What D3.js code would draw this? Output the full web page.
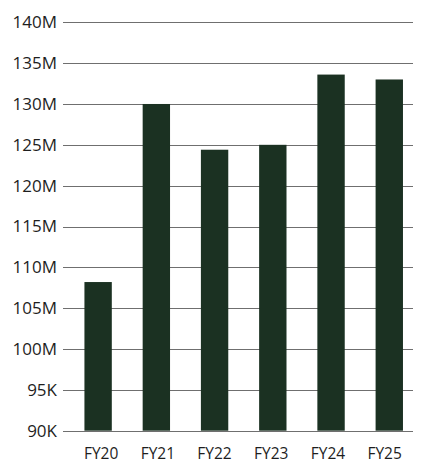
<!DOCTYPE html>
<html><head><meta charset="utf-8">
<script src="https://cdn.jsdelivr.net/npm/d3@7"></script>
<style>html,body{margin:0;padding:0;background:#fff;}</style>
</head><body>
<svg id="chart" width="427" height="470"></svg>
<script>
const categories = ["FY20","FY21","FY22","FY23","FY24","FY25"];
const values = [108.2, 130.0, 124.4, 125.0, 133.6, 133.0];
const tickValues = [90,95,100,105,110,115,120,125,130,135,140];
const tickLabels = ["90K","95K","100M","105M","110M","115M","120M","125M","130M","135M","140M"];

const svg = d3.select("#chart");
const font = "'Open Sans', 'Noto Sans', sans-serif";
const y = d3.scaleLinear().domain([90,140]).range([430.7,22.3]);
const x = d3.scaleBand().domain(categories).range([69,418.4]).paddingInner(0.53).paddingOuter(0.265);
const xl = d3.scaleBand().domain(categories).range([72.8,413]);
const gx0 = 63, gx1 = 413;

// gridlines
svg.append("g").selectAll("line").data(tickValues).join("line")
  .attr("x1", gx0).attr("x2", gx1)
  .attr("y1", d => Math.round(y(d)) + 0.5).attr("y2", d => Math.round(y(d)) + 0.5)
  .attr("stroke", "#6f6f6f").attr("stroke-width", 1);

// y labels
svg.append("g").selectAll("text").data(tickValues).join("text")
  .attr("x", 57).attr("y", d => y(d)).attr("dy", "0.35em")
  .attr("text-anchor", "end")
  .attr("font-family", font).attr("font-size", 17).attr("fill", "#1e1e1e")
  .text((d,i) => tickLabels[i]);

// bars
svg.append("g").selectAll("rect").data(values).join("rect")
  .attr("x", (d,i) => x(categories[i]))
  .attr("width", x.bandwidth())
  .attr("y", d => y(d))
  .attr("height", d => y(90) - y(d))
  .attr("fill", "#1b3122");

// x labels
svg.append("g").selectAll("text").data(categories).join("text")
  .attr("x", d => xl(d) + xl.bandwidth()/2).attr("y", 459)
  .attr("text-anchor", "middle")
  .attr("font-family", font).attr("font-size", 15.5).attr("fill", "#1e1e1e")
  .text(d => d);
</script>
</body></html>
